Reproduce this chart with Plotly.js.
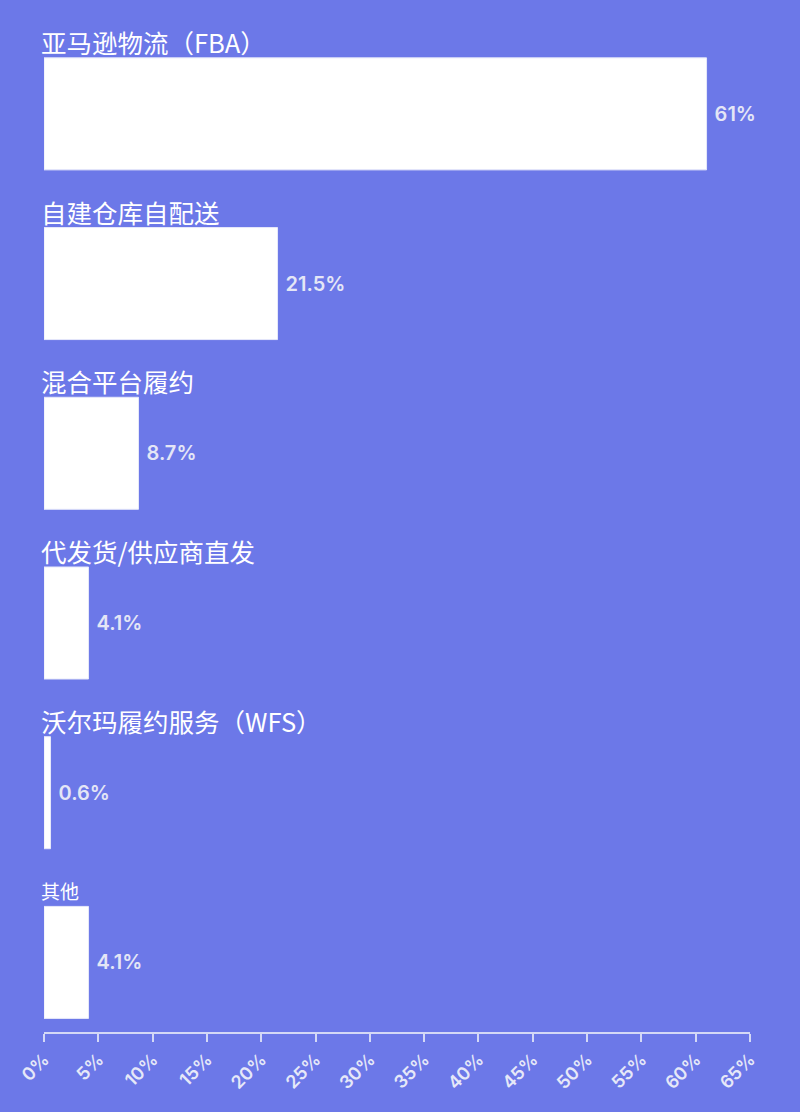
<!DOCTYPE html>
<html>
<head>
<meta charset="utf-8">
<script src="https://cdn.plot.ly/plotly-3.0.1.min.js"></script>
<style>
  html, body { margin: 0; padding: 0; background: #6c78e8; }
  #plot { width: 800px; height: 1112px; }
</style>
</head>
<body>
<div id="plot"></div>
<script>
// 履约方式占比（%）
var categories = ["亚马逊物流（FBA）", "自建仓库自配送", "混合平台履约", "代发货/供应商直发", "沃尔玛履约服务（WFS）", "其他"];
var shares = [61, 21.5, 8.7, 4.1, 0.6, 4.1];
var shareLabels = ["61%", "21.5%", "8.7%", "4.1%", "0.6%", "4.1%"];
var tickValues = [0, 5, 10, 15, 20, 25, 30, 35, 40, 45, 50, 55, 60, 65];
var tickLabels = tickValues.map(function(v) { return v + "%"; });

var bg = "#6c78e8";

var trace = {
    type: "bar",
    orientation: "h",
    x: shares,
    y: categories,
    text: shareLabels,
    texttemplate: " %{text}",
    textposition: "outside",
    cliponaxis: false,
    textfont: { family: "Inter, Roboto, sans-serif", size: 20, color: "#e4e6f6", weight: 600 },
    marker: { color: "#ffffff", line: { color: "#e6e8fa", width: 1 } },
    width: 0.66,
    hoverinfo: "none"
};

var annotations = categories.map(function(c, i) {
    var small = (c === "其他");
    return {
        x: 0,
        y: c,
        xref: "x",
        yref: "y",
        text: c,
        showarrow: false,
        xanchor: "left",
        yanchor: "bottom",
        xshift: -5,
        yshift: small ? 56 : 52,
        font: { family: "Noto Sans CJK SC, sans-serif", size: small ? 19 : 25.5, color: "#ffffff" }
    };
});

var layout = {
    width: 800,
    height: 1112,
    paper_bgcolor: bg,
    plot_bgcolor: bg,
    margin: { l: 44, r: 50, t: 29, b: 80 },
    showlegend: false,
    bargap: 0.34,
    xaxis: {
        range: [0, 65],
        tickvals: tickValues,
        ticktext: tickLabels,
        tickangle: -45,
        ticks: "outside",
        ticklen: 8,
        tickwidth: 2,
        tickcolor: "#d4d8f6",
        showline: true,
        linecolor: "#d4d8f6",
        linewidth: 2,
        showgrid: false,
        zeroline: false,
        tickfont: { family: "Inter, Roboto, sans-serif", size: 18, color: "#e6e8f8", weight: 600 }
    },
    yaxis: {
        type: "category",
        range: [5.41, -0.5],
        showticklabels: false,
        showgrid: false,
        zeroline: false,
        showline: false,
        ticks: ""
    },
    annotations: annotations
};

Plotly.newPlot("plot", [trace], layout, { displayModeBar: false, staticPlot: true });
</script>
</body>
</html>
